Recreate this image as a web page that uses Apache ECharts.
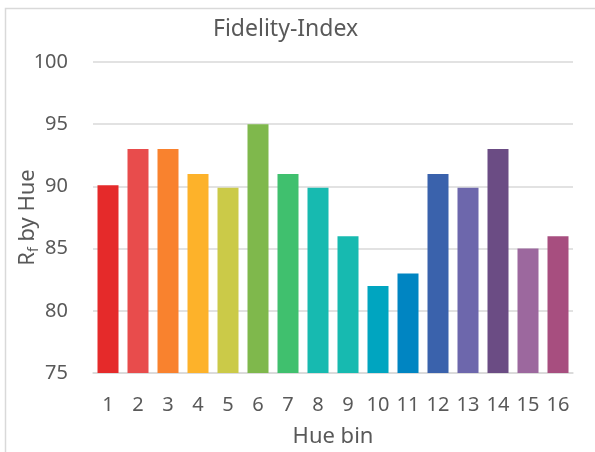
<!DOCTYPE html>
<html>
<head>
<meta charset="utf-8">
<script src="https://cdn.jsdelivr.net/npm/echarts@6/dist/echarts.min.js"></script>
<style>
	html, body { margin: 0; padding: 0; background: #fff; }
	#chart { width: 595px; height: 452px; }
</style>
</head>
<body>
<div id="chart"></div>
<script>
// data
var hueBins = ['1', '2', '3', '4', '5', '6', '7', '8', '9', '10', '11', '12', '13', '14', '15', '16'];
var rfValues = [90.1, 93, 93, 91, 89.9, 95, 91, 89.9, 86, 82, 83, 91, 89.9, 93, 85, 86];
var barColors = ['#E52A2A', '#E84C4C', '#F9822E', '#FDB22A', '#CBCA48', '#7FB84C', '#40C06E', '#17BAB0',
	'#17BAB0', '#00A5C0', '#0085C2', '#3A62AC', '#6D67AC', '#6B4C84', '#9C689E', '#A74E7F'];

var myChart = echarts.init(document.getElementById('chart'));
var textColor = '#595959';
var fontName = '"Noto Sans", "Open Sans", sans-serif';

var option = {
	animation: false,
	backgroundColor: '#fff',
	title: {
		text: 'Fidelity-Index',
		left: 208,
		top: 13,
		textStyle: { color: textColor, fontSize: 23, fontWeight: 'normal', fontFamily: fontName }
	},
	graphic: [{
		type: 'rect',
		shape: { x: 5.5, y: 8.5, width: 700, height: 600 },
		style: { fill: 'none', stroke: '#D9D9D9', lineWidth: 1.5 },
		silent: true
	}],
	grid: { left: 93, right: 22, top: 62, bottom: 79, outerBoundsMode: 'none' },
	xAxis: {
		type: 'category',
		data: hueBins,
		name: 'Hue bin',
		nameLocation: 'middle',
		nameGap: 53,
		nameMoveOverlap: false,
		nameTextStyle: { color: textColor, fontSize: 22, fontFamily: fontName },
		axisLine: { lineStyle: { color: '#D9D9D9', width: 1.5 } },
		axisTick: { show: false },
		axisLabel: { color: textColor, fontSize: 20, fontFamily: fontName, margin: 22, interval: 0 }
	},
	yAxis: {
		type: 'value',
		min: 75,
		max: 100,
		interval: 5,
		name: '{a|R}{b|f}{a| by Hue}',
		nameLocation: 'middle',
		nameGap: 52,
		nameMoveOverlap: false,
		nameTextStyle: {
			rich: {
				a: { color: textColor, fontSize: 22, fontFamily: fontName },
				b: { color: textColor, fontSize: 14, fontFamily: fontName, padding: [12, 0, 0, 0] }
			}
		},
		axisLine: { show: false },
		axisTick: { show: false },
		axisLabel: { color: textColor, fontSize: 20, fontFamily: fontName, margin: 25 },
		splitLine: { lineStyle: { color: '#D9D9D9', width: 1.5 } }
	},
	series: [{
		type: 'bar',
		data: rfValues.map(function(v, i) {
			return { value: v, itemStyle: { color: barColors[i] } };
		}),
		barCategoryGap: '30%'
	}]
};
myChart.setOption(option);
</script>
</body>
</html>
